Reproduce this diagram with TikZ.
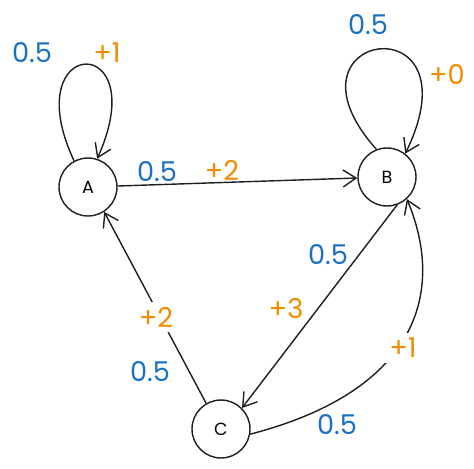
\documentclass[tikz,border=0pt]{standalone}
\usepackage{fontspec}
\setmainfont{Poppins}
\usetikzlibrary{arrows.meta, positioning}
\definecolor{exBlue}{HTML}{1971C2}
\definecolor{exOrange}{HTML}{F08C00}
\definecolor{exInk}{HTML}{1E1E1E}
\tikzset{
  >={Straight Barb[length=2.6mm, width=3.4mm]},
  state/.style={circle, draw=exInk, line width=0.8pt, minimum size=1.16cm,
    inner sep=0pt, font=\normalsize},
  prob/.style={font=\fontsize{15.5}{17}\selectfont, text=exBlue, inner sep=1pt},
  reward/.style={font=\fontsize{15.5}{17}\selectfont, text=exOrange, inner sep=1pt},
  gap/.style={fill=white, inner sep=3pt},
  flow/.style={->, line width=0.8pt, draw=exInk},
}

\begin{document}
\begin{tikzpicture}[x=0.02cm, y=-0.02cm]
  \useasboundingbox (0,0) rectangle (474,468);

  % ---- Nodes -------------------------------------------------------------
  \node[state] (a) at (88,187)  {A};
  \node[state] (b) at (387,177) {B};
  \node[state] (c) at (221,429) {C};

  % ---- Edges -------------------------------------------------------------
  % self loops
  \draw[flow] (a.118) .. controls (15,35) and (155,30) .. (a.72);
  \draw[flow] (b.111) .. controls (270,30) and (480,0) .. (b.52);

  \draw[flow] (a) -- (b);
  \draw[flow] (b.-70) -- (c.45);
  \draw[flow] (c.120) -- (a.-57);
  \draw[flow] (c.-10) .. controls (420,390) and (445,290) .. (b.-48);

  % ---- Labels ------------------------------------------------------------
  \node[prob]   (aaP) at (32,53)   {0.5};
  \node[reward] (aaR) at (107,53)  {+1};
  \node[prob]   (bbP) at (368,25)  {0.5};
  \node[reward] (bbR) at (447,74)  {+0};
  \node[prob]   (abP) at (157,172) {0.5};
  \node[reward] (abR) at (222,170) {+2};
  \node[prob]   (bcP) at (328,255) {0.5};
  \node[reward] (bcR) at (286,309) {+3};
  \node[prob]   (caP) at (150,372) {0.5};
  \node[reward, gap] (caR) at (156,317) {+2};
  \node[prob]   (cbP) at (337,425) {0.5};
  \node[reward, gap] (cbR) at (403,348) {+1};

\end{tikzpicture}
\end{document}
